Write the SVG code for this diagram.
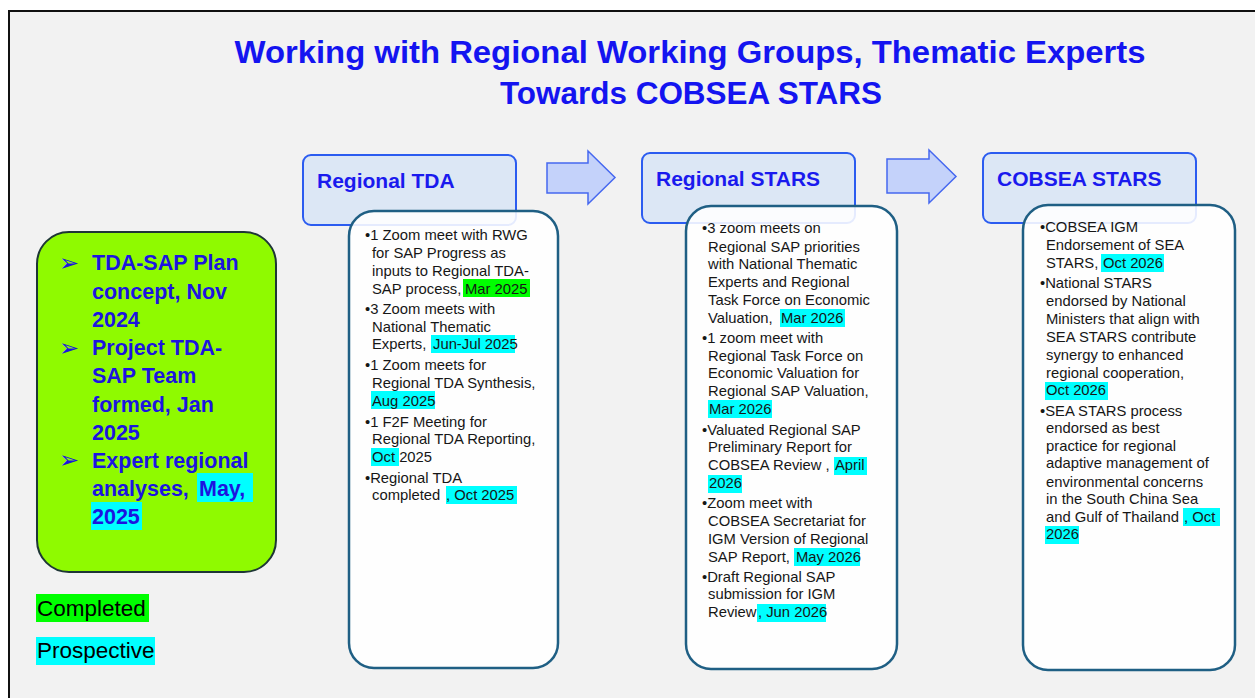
<svg xmlns="http://www.w3.org/2000/svg" width="1255" height="698" viewBox="0 0 1255 698">
<defs>
<style>
.title{font-family:"Liberation Sans",Arial,sans-serif;font-weight:bold;font-size:31px;fill:#1414f0}
.hdr{fill:#dce7f5;stroke:#2b5cf0;stroke-width:2}
.htxt{font-family:"Liberation Sans",Arial,sans-serif;font-weight:bold;font-size:21px;fill:#1a1aee}
.card{fill:#ffffff;fill-opacity:0.88;stroke:#1f5f84;stroke-width:2.5}
.t{font-family:"Liberation Sans",Arial,sans-serif;font-size:14.8px;fill:#161616}
.hc{fill:#00ffff}
.hg{fill:#00ff00}
.arrow{fill:#c4d2fa;stroke:#4668f0;stroke-width:1.5}
.lt{font-family:"Liberation Sans",Arial,sans-serif;font-weight:bold;font-size:21.5px;fill:#1c14e0}
.bul{font-family:"DejaVu Sans",sans-serif;font-size:24px;fill:#1c14e0}
.leg{font-family:"Liberation Sans",Arial,sans-serif;font-size:22.5px;fill:#000}
</style>
</defs>
<rect x="0" y="0" width="1255" height="698" fill="#ffffff"/>
<rect x="9" y="11" width="1260" height="700" fill="#f2f2f2" stroke="#111" stroke-width="2"/>

<g id="title">
<text class="title" x="690" y="63" text-anchor="middle" textLength="911" lengthAdjust="spacingAndGlyphs">Working with Regional Working Groups, Thematic Experts</text>
<text class="title" x="691" y="104" text-anchor="middle" textLength="382" lengthAdjust="spacingAndGlyphs">Towards COBSEA STARS</text>
</g>

<g id="connectors">
<polygon class="arrow" points="547,163 588,163 588,151 615,177.5 588,204 588,193 547,193"/>
<polygon class="arrow" points="887,159 929,159 929,150 956,176.5 929,203 929,193 887,193"/>
</g>

<g id="summary">
<rect x="37" y="232" width="239" height="340" rx="32" fill="#8ffa00" stroke="#1e3636" stroke-width="2"/>
<rect class="hc" x="197" y="473" width="56" height="29"/>
<rect class="hc" x="91" y="502" width="51" height="28"/>
<text class="bul" x="59" y="271">➢</text>
<text class="bul" x="59" y="356">➢</text>
<text class="bul" x="59" y="468">➢</text>
<text class="lt" x="92" y="270">TDA-SAP Plan</text>
<text class="lt" x="92" y="299">concept, Nov</text>
<text class="lt" x="92" y="327">2024</text>
<text class="lt" x="92" y="355">Project TDA-</text>
<text class="lt" x="92" y="383">SAP Team</text>
<text class="lt" x="92" y="412">formed, Jan</text>
<text class="lt" x="92" y="440">2025</text>
<text class="lt" x="92" y="468">Expert regional</text>
<text class="lt" x="92" y="496">analyses, <tspan x="199">May,</tspan></text>
<text class="lt" x="92" y="524">2025</text>
</g>

<g id="legend">
<rect class="hg" x="36" y="594" width="113" height="28"/>
<text class="leg" x="37" y="616">Completed</text>
<rect class="hc" x="36" y="637" width="119" height="28"/>
<text class="leg" x="37" y="658">Prospective</text>
</g>

<g id="regional-tda">
<rect class="hdr" x="303" y="155" width="213" height="70" rx="8"/>
<text class="htxt" x="317" y="188">Regional TDA</text>
<rect class="card" x="349" y="211" width="209" height="457" rx="25"/>
<rect class="hg" x="463" y="279" width="67" height="18"/>
<rect class="hc" x="431" y="335" width="84" height="18"/>
<rect class="hc" x="371" y="391" width="64" height="18"/>
<rect class="hc" x="371" y="448" width="28" height="18"/>
<rect class="hc" x="446" y="486" width="71" height="18"/>
<text class="t" x="365" y="240">•1 Zoom meet with RWG</text>
<text class="t" x="372" y="258">for SAP Progress as</text>
<text class="t" x="372" y="276">inputs to Regional TDA-</text>
<text class="t" x="372" y="294">SAP process, <tspan x="465">Mar 2025</tspan></text>
<text class="t" x="365" y="314">•3 Zoom meets with</text>
<text class="t" x="372" y="332">National Thematic</text>
<text class="t" x="372" y="349">Experts, <tspan x="433">Jun-Jul 2025</tspan></text>
<text class="t" x="365" y="370">•1 Zoom meets for</text>
<text class="t" x="372" y="388">Regional TDA Synthesis,</text>
<text class="t" x="372" y="406">Aug 2025</text>
<text class="t" x="365" y="427">•1 F2F Meeting for</text>
<text class="t" x="372" y="444">Regional TDA Reporting,</text>
<text class="t" x="372" y="462">Oct 2025</text>
<text class="t" x="365" y="483">•Regional TDA</text>
<text class="t" x="372" y="500">completed<tspan x="446">, Oct 2025</tspan></text>
</g>

<g id="regional-stars">
<rect class="hdr" x="642" y="153" width="213" height="70" rx="8"/>
<text class="htxt" x="656" y="186">Regional STARS</text>
<rect class="card" x="686" y="206" width="211" height="463" rx="25"/>
<rect class="hc" x="780" y="309" width="65" height="18"/>
<rect class="hc" x="708" y="400" width="64" height="18"/>
<rect class="hc" x="834" y="457" width="33" height="18"/>
<rect class="hc" x="708" y="475" width="34" height="18"/>
<rect class="hc" x="794" y="548" width="66" height="18"/>
<rect class="hc" x="757" y="604" width="69" height="18"/>
<text class="t" x="702" y="233">•3 zoom meets on</text>
<text class="t" x="708" y="252">Regional SAP priorities</text>
<text class="t" x="708" y="269">with National Thematic</text>
<text class="t" x="708" y="287">Experts and Regional</text>
<text class="t" x="708" y="305">Task Force on Economic</text>
<text class="t" x="708" y="323">Valuation,<tspan x="781">Mar 2026</tspan></text>
<text class="t" x="702" y="343">•1 zoom meet with</text>
<text class="t" x="708" y="361">Regional Task Force on</text>
<text class="t" x="708" y="378">Economic Valuation for</text>
<text class="t" x="708" y="396">Regional SAP Valuation,</text>
<text class="t" x="709" y="414">Mar 2026</text>
<text class="t" x="702" y="435">•Valuated Regional SAP</text>
<text class="t" x="708" y="452">Preliminary Report for</text>
<text class="t" x="708" y="470">COBSEA Review ,<tspan x="835">April</tspan></text>
<text class="t" x="709" y="488">2026</text>
<text class="t" x="702" y="508">•Zoom meet with</text>
<text class="t" x="708" y="526">COBSEA Secretariat for</text>
<text class="t" x="708" y="544">IGM Version of Regional</text>
<text class="t" x="708" y="562">SAP Report,<tspan x="796">May 2026</tspan></text>
<text class="t" x="702" y="582">•Draft Regional SAP</text>
<text class="t" x="708" y="599">submission for IGM</text>
<text class="t" x="708" y="617">Review<tspan x="758">, Jun 2026</tspan></text>
</g>

<g id="cobsea-stars">
<rect class="hdr" x="983" y="153" width="213" height="70" rx="8"/>
<text class="htxt" x="997" y="186">COBSEA STARS</text>
<rect class="card" x="1023" y="205" width="212" height="465" rx="25"/>
<rect class="hc" x="1101" y="254" width="63" height="18"/>
<rect class="hc" x="1045" y="382" width="63" height="18"/>
<rect class="hc" x="1183" y="508" width="37" height="18"/>
<rect class="hc" x="1045" y="526" width="34" height="18"/>
<text class="t" x="1040" y="232">•COBSEA IGM</text>
<text class="t" x="1046" y="250">Endorsement of SEA</text>
<text class="t" x="1046" y="268">STARS,<tspan x="1103">Oct 2026</tspan></text>
<text class="t" x="1040" y="288">•National STARS</text>
<text class="t" x="1046" y="306">endorsed by National</text>
<text class="t" x="1046" y="324">Ministers that align with</text>
<text class="t" x="1046" y="342">SEA STARS contribute</text>
<text class="t" x="1046" y="360">synergy to enhanced</text>
<text class="t" x="1046" y="378">regional cooperation,</text>
<text class="t" x="1046" y="395">Oct 2026</text>
<text class="t" x="1040" y="416">•SEA STARS process</text>
<text class="t" x="1046" y="433">endorsed as best</text>
<text class="t" x="1046" y="451">practice for regional</text>
<text class="t" x="1046" y="468">adaptive management of</text>
<text class="t" x="1046" y="487">environmental concerns</text>
<text class="t" x="1046" y="504">in the South China Sea</text>
<text class="t" x="1046" y="522">and Gulf of Thailand<tspan x="1184">, Oct</tspan></text>
<text class="t" x="1046" y="539">2026</text>
</g>
</svg>
